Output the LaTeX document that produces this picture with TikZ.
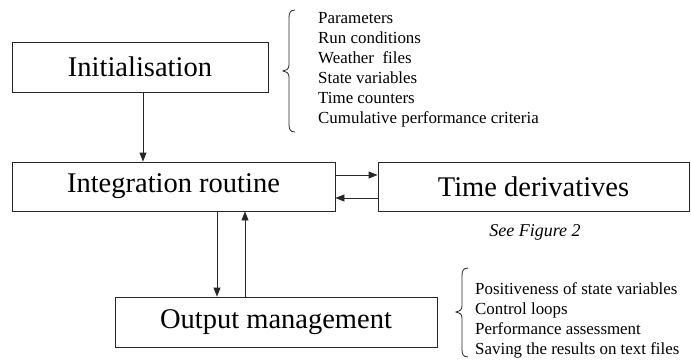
\documentclass[tikz,border=0pt]{standalone}
\usepackage{fontspec}
\setmainfont{Liberation Serif}
\usetikzlibrary{arrows.meta}
\begin{document}
\begin{tikzpicture}[x=1pt,y=-1pt,
  box/.style={draw=black!85,line width=0.9pt,inner sep=0pt,
    font=\fontsize{28.5}{34}\selectfont},
  arr/.style={draw=black!85,line width=0.9pt,-{Triangle[length=9pt,width=7pt]}},
  lst/.style={anchor=west,align=left,inner sep=0pt,
    font=\fontsize{16.9}{20}\selectfont},
  brc/.style={draw=black!85,line width=0.8pt}]
\useasboundingbox (0,0) rectangle (691,359);
% boxes
\node[box,minimum width=256pt,minimum height=50pt] (init) at (140,67) {Initialisation};
\node[box,minimum width=323pt,minimum height=49pt] (integ) at (173.5,186.5) {Integration routine};
\node[box,minimum width=311pt,minimum height=49pt] (tder) at (533.5,186.5) {Time derivatives};
\node[box,minimum width=322pt,minimum height=50pt] (outm) at (276,322) {Output management};
% connectors
\draw[arr] ([xshift=3pt]init.south) -- ([xshift=3pt]init.south |- integ.north);
\draw[arr] ([yshift=11.5pt]integ.east) -- ([yshift=11.5pt]integ.east -| tder.west);
\draw[arr] ([yshift=-11.5pt]tder.west) -- ([yshift=-11.5pt]tder.west -| integ.east);
\draw[arr] ([xshift=43.5pt]integ.south) -- ([xshift=43.5pt]integ.south |- outm.north);
\draw[arr] ([xshift=71.5pt]integ.south |- outm.north) -- ([xshift=71.5pt]integ.south);
% note
\node[font=\fontsize{18}{20}\selectfont\itshape] (see) at (535,232) {See Figure 2};
% lists
\node[lst] (l1) at (318,70) {Parameters\\Run conditions\\Weather~ files\\State variables\\Time counters\\Cumulative performance criteria};
\node[lst] (l2) at (475,320) {Positiveness of state variables\\Control loops\\Performance assessment\\Saving the results on text files};
% braces
\draw[brc] (295,10) .. controls (290,10) and (289,13) .. (289,18) -- (289,65)
  .. controls (289,69) and (286,71) .. (283,71)
  .. controls (286,71) and (289,73) .. (289,77) -- (289,124)
  .. controls (289,129) and (290,132) .. (295,132);
\draw[brc] (468,268) .. controls (463,268) and (462,271) .. (462,276) -- (462,306)
  .. controls (462,310) and (459,312) .. (456,312)
  .. controls (459,312) and (462,314) .. (462,318) -- (462,349)
  .. controls (462,354) and (463,357) .. (468,357);
\end{tikzpicture}
\end{document}
